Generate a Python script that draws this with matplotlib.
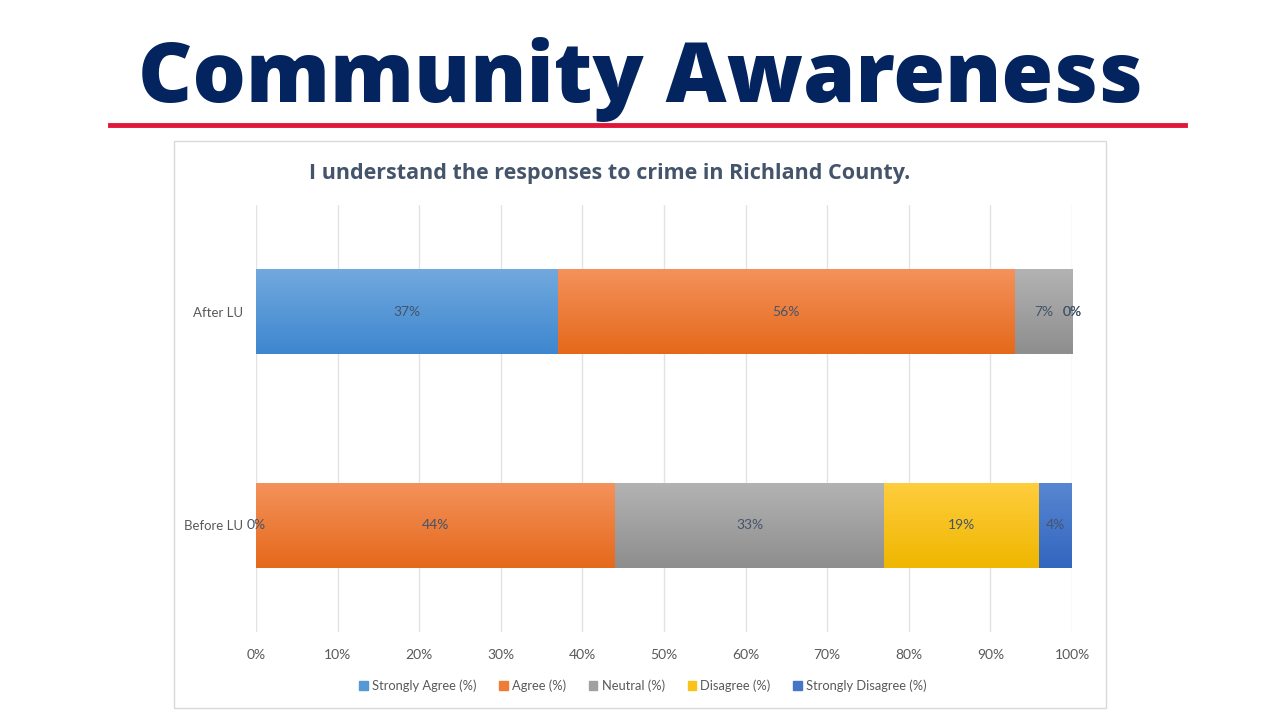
import numpy as np
import matplotlib.pyplot as plt
from matplotlib.patches import Rectangle
from matplotlib.lines import Line2D
from matplotlib.colors import LinearSegmentedColormap

# данные опроса
groups = ["Before LU", "After LU"]
series = ["Strongly Agree (%)", "Agree (%)", "Neutral (%)", "Disagree (%)", "Strongly Disagree (%)"]
strongly_agree = [0, 37]
agree = [44, 56]
neutral = [33, 7]
disagree = [19, 0]
strongly_disagree = [4, 0]
values = [strongly_agree, agree, neutral, disagree, strongly_disagree]

# цвета: верх и низ градиента
tops = ["#72a9de", "#f4925c", "#b3b3b3", "#ffcd3e", "#5886d2"]
bottoms = ["#3e87cf", "#e5691b", "#8e8e8e", "#efb700", "#3366bf"]
mids = ["#5598d6", "#ee7d35", "#a0a0a0", "#fbc21a", "#4676c8"]
fnt = ["Lato", "DejaVu Sans"]

fig = plt.figure(figsize=(12.8, 7.2), dpi=100)
W, H = 1280, 720

# заголовок слайда и красная линия
fig.text(640 / W, 1 - 79 / H, "Community Awareness", ha="center", va="center",
         fontsize=60.5, fontweight="heavy", color="#03245f", family=["Open Sans", "DejaVu Sans"])
fig.add_artist(Line2D([110 / W, 1185 / W], [1 - 125 / H, 1 - 125 / H], color="#e0173a", lw=3.5))
# рамка диаграммы
fig.add_artist(Rectangle((174 / W, 1 - 708 / H), (1106 - 174) / W, (708 - 141) / H,
                         fill=False, edgecolor="#d9d9d9", lw=1))
fig.text(610 / W, 1 - 173 / H, "I understand the responses to crime in Richland County.",
         ha="center", va="center", fontsize=15.5, fontweight="bold", color="#44546a",
         family=["Open Sans", "DejaVu Sans"])

ax = fig.add_axes([256 / W, 1 - 632 / H, (1072 - 256) / W, (632 - 205) / H])
y = np.arange(len(groups))
left = np.zeros(len(groups))
for name, vals, c0, c1, cm in zip(series, values, tops, bottoms, mids):
    bars = ax.barh(y, vals, left=left, height=0.4, color=cm, label=name, zorder=2)
    # градиент внутри столбиков
    cmap = LinearSegmentedColormap.from_list("g", [c0, c1])
    for b in bars:
        if b.get_width() <= 0:
            continue
        x0, y0 = b.get_x(), b.get_y()
        im = ax.imshow(np.linspace(0, 1, 50).reshape(-1, 1), cmap=cmap, aspect="auto",
                       extent=[x0, x0 + b.get_width(), y0, y0 + b.get_height()],
                       origin="upper", zorder=3)
        im.set_clip_path(b)
    for b, v in zip(bars, vals):
        ax.text(b.get_x() + b.get_width() / 2, b.get_y() + b.get_height() / 2, f"{v}%",
                ha="center", va="center", fontsize=10, color="#44546a", zorder=4, family=fnt)
    left += np.array(vals)

ax.set_xlim(0, 100)
ax.set_ylim(-0.5, 1.5)
ax.set_xticks(np.arange(0, 101, 10))
ax.set_xticklabels([f"{t}%" for t in range(0, 101, 10)])
ax.set_yticks(y)
ax.set_yticklabels(groups)
ax.grid(axis="x", color="#e3e3e3", lw=1, zorder=0)
for s in ax.spines.values():
    s.set_visible(False)
ax.tick_params(axis="x", length=0, labelsize=10, labelcolor="#595959", pad=12)
ax.tick_params(axis="y", length=0, labelsize=9.5, labelcolor="#595959", pad=9)
for t in ax.get_xticklabels() + ax.get_yticklabels():
    t.set_family(fnt)

handles = [Rectangle((0, 0), 1, 1, color=c) for c in mids]
fig.legend(handles, series, loc="center", bbox_to_anchor=(643 / W, 1 - 686 / H), ncol=5,
           frameon=False, handlelength=0.65, handleheight=0.65,
           handletextpad=0.35, columnspacing=1.75,
           prop={"family": fnt, "size": 9.3})
for t in fig.legends[0].get_texts():
    t.set_color("#595959")

fig.savefig("out.png", dpi=100)
